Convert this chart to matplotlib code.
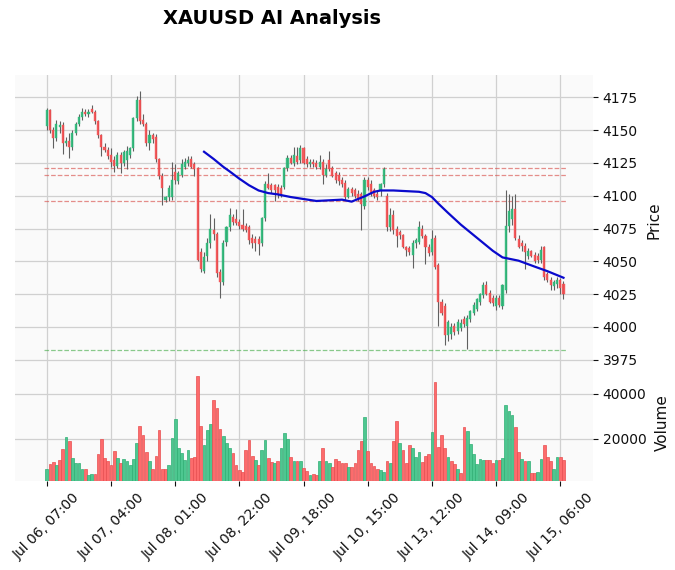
import numpy as np
import matplotlib
matplotlib.use("Agg")
import matplotlib.pyplot as plt

# hourly candles, index 0 = Jul 06 07:00
open_ = [4153, 4165, 4150, 4144, 4152, 4154, 4140, 4142, 4137, 4148,
         4155, 4160, 4164, 4162, 4166, 4164, 4157, 4146, 4137, 4135,
         4131, 4127, 4123, 4131, 4125, 4127, 4131, 4136, 4159, 4173,
         4158, 4155, 4140, 4146, 4145, 4128, 4115, 4097, 4099, 4099,
         4118, 4111, 4116, 4122, 4125, 4128, 4124, 4121, 4057, 4043,
         4054, 4064, 4074, 4071, 4042, 4034, 4065, 4076, 4084, 4082,
         4080, 4078, 4077, 4076, 4068, 4067, 4067, 4064, 4083, 4109,
         4108, 4108, 4107, 4106, 4107, 4121, 4129, 4125, 4130, 4127,
         4136, 4128, 4124, 4126, 4125, 4122, 4126, 4116, 4127, 4121,
         4117, 4116, 4112, 4110, 4099, 4105, 4104, 4101, 4101, 4092,
         4112, 4109, 4104, 4101, 4104, 4109, 4100, 4076, 4085, 4075,
         4072, 4070, 4061, 4060, 4055, 4064, 4065, 4075, 4069, 4061,
         4057, 4068, 4047, 4019, 4016, 3994, 3995, 4001, 3997, 3999,
         4006, 4001, 4006, 4011, 4014, 4019, 4024, 4032, 4026, 4022,
         4016, 4022, 4016, 4028, 4077, 4082, 4090, 4067, 4064, 4062,
         4054, 4058, 4055, 4054, 4051, 4061, 4040, 4036, 4031, 4033,
         4036, 4033]
high = [4167, 4166, 4152, 4158, 4157, 4156, 4145, 4148, 4150, 4156,
        4162, 4167, 4166, 4166, 4169, 4165, 4158, 4147, 4140, 4137,
        4136, 4130, 4133, 4133, 4135, 4138, 4137, 4160, 4176, 4180,
        4162, 4156, 4150, 4148, 4147, 4129, 4117, 4100, 4108, 4126,
        4124, 4119, 4128, 4129, 4130, 4130, 4126, 4122, 4060, 4057,
        4068, 4086, 4083, 4072, 4044, 4066, 4077, 4091, 4086, 4090,
        4082, 4090, 4079, 4078, 4071, 4069, 4069, 4084, 4111, 4117,
        4110, 4109, 4109, 4108, 4122, 4131, 4131, 4137, 4137, 4139,
        4137, 4130, 4128, 4128, 4127, 4131, 4128, 4124, 4134, 4123,
        4119, 4118, 4114, 4112, 4107, 4107, 4106, 4104, 4103, 4114,
        4114, 4112, 4106, 4104, 4110, 4122, 4102, 4091, 4089, 4077,
        4074, 4071, 4062, 4062, 4066, 4068, 4081, 4078, 4071, 4063,
        4074, 4070, 4049, 4021, 4018, 4005, 4003, 4003, 4006, 4006,
        4008, 4009, 4013, 4019, 4022, 4026, 4034, 4035, 4028, 4024,
        4024, 4024, 4033, 4104, 4101, 4100, 4101, 4070, 4066, 4064,
        4060, 4059, 4057, 4056, 4062, 4062, 4042, 4038, 4036, 4038,
        4037, 4035]
low = [4150, 4148, 4136, 4142, 4148, 4132, 4138, 4129, 4135, 4146,
       4153, 4158, 4161, 4160, 4163, 4155, 4144, 4130, 4133, 4128,
       4122, 4118, 4121, 4117, 4123, 4120, 4129, 4134, 4157, 4155,
       4153, 4138, 4135, 4140, 4126, 4113, 4093, 4095, 4096, 4097,
       4109, 4109, 4114, 4120, 4123, 4121, 4115, 4050, 4042, 4041,
       4050, 4060, 4066, 4038, 4022, 4032, 4062, 4073, 4078, 4078,
       4075, 4073, 4072, 4063, 4060, 4058, 4055, 4062, 4081, 4105,
       4102, 4096, 4098, 4099, 4105, 4119, 4124, 4123, 4124, 4125,
       4124, 4122, 4122, 4122, 4120, 4120, 4109, 4114, 4119, 4114,
       4110, 4108, 4107, 4097, 4098, 4100, 4098, 4096, 4074, 4090,
       4104, 4100, 4098, 4097, 4100, 4107, 4073, 4073, 4071, 4061,
       4067, 4060, 4054, 4055, 4045, 4060, 4063, 4068, 4048, 4054,
       4055, 4044, 4001, 4009, 3986, 3989, 3991, 3994, 3995, 3997,
       4000, 3983, 4004, 4009, 4012, 4017, 4022, 4024, 4018, 4016,
       4013, 4015, 4014, 4026, 4072, 4078, 4066, 4060, 4058, 4044,
       4052, 4053, 4049, 4049, 4049, 4036, 4034, 4028, 4028, 4030,
       4025, 4021]
close = [4165, 4150, 4144, 4155, 4154, 4140, 4142, 4137, 4148, 4155,
         4160, 4164, 4162, 4164, 4164, 4157, 4146, 4137, 4135, 4130,
         4126, 4123, 4131, 4125, 4133, 4134, 4136, 4159, 4173, 4157,
         4155, 4140, 4146, 4143, 4128, 4115, 4106, 4099, 4106, 4112,
         4112, 4117, 4124, 4126, 4127, 4122, 4120, 4051, 4044, 4053,
         4064, 4075, 4071, 4041, 4034, 4064, 4076, 4085, 4080, 4079,
         4077, 4075, 4074, 4066, 4064, 4064, 4063, 4083, 4109, 4106,
         4104, 4104, 4101, 4101, 4121, 4129, 4125, 4131, 4126, 4136,
         4125, 4124, 4126, 4124, 4122, 4126, 4116, 4120, 4120, 4115,
         4112, 4111, 4109, 4099, 4105, 4102, 4100, 4097, 4094, 4112,
         4107, 4102, 4100, 4099, 4109, 4120, 4076, 4085, 4074, 4069,
         4070, 4061, 4059, 4057, 4064, 4066, 4076, 4069, 4061, 4056,
         4067, 4046, 4019, 4011, 3994, 4004, 4000, 3996, 4004, 4003,
         4002, 4007, 4012, 4017, 4021, 4025, 4032, 4025, 4019, 4018,
         4022, 4017, 4032, 4077, 4088, 4090, 4068, 4061, 4062, 4057,
         4058, 4054, 4050, 4051, 4059, 4038, 4036, 4032, 4034, 4036,
         4030, 4025]
volume = [6500, 8750, 9750, 8300, 10400, 15400, 20700, 18700, 11400, 8900,
          8900, 6500, 6500, 3600, 4100, 4400, 12900, 19800, 11400, 10100,
          8300, 14500, 11400, 9200, 11000, 10100, 8400, 11100, 17800, 25800,
          21600, 14200, 9800, 6500, 12300, 23800, 6500, 6500, 8000, 20300,
          28700, 15800, 13400, 10400, 14900, 11400, 12000, 48000, 25800, 17000,
          23700, 26700, 37300, 33600, 24400, 21000, 18100, 15600, 13700, 8000,
          5900, 5300, 14900, 19300, 12300, 10400, 8000, 14900, 19300, 11300,
          9400, 9100, 9800, 16000, 22700, 19900, 12000, 9800, 9800, 9800,
          6800, 5500, 3900, 4400, 3900, 9800, 16000, 10200, 9300, 7100,
          11000, 10200, 9300, 9300, 7400, 7100, 9100, 14700, 19100, 29800,
          14500, 9300, 7800, 6400, 5800, 5300, 10100, 9100, 19100, 27800,
          18000, 14900, 9100, 17000, 15800, 12000, 13800, 9400, 12300, 13300,
          23000, 45000, 16400, 21400, 15800, 12000, 10100, 8600, 6500, 4600,
          25000, 23200, 17500, 13300, 8600, 11000, 10400, 10400, 10400, 9100,
          10400, 10400, 11300, 35000, 32500, 30500, 25300, 14200, 10800, 10200,
          9800, 4700, 4700, 5300, 11000, 17200, 12000, 9800, 6500, 12000,
          12000, 10400]

# moving average line (candle index, value)
ma_idx = [49, 52, 55, 57, 60, 63, 66, 69, 72, 76, 80, 84, 88, 92, 95, 99,
          102, 104, 108, 112, 116, 118, 120, 122, 125, 129, 133, 136, 139,
          142, 147, 152, 156, 161]
ma_val = [4133.5, 4128, 4122, 4118.5, 4113, 4108, 4104, 4102, 4101, 4099,
          4097.5, 4096, 4096.5, 4097, 4095.5, 4099.5, 4103, 4104, 4104,
          4103.5, 4103, 4102, 4099, 4094, 4087, 4078, 4070, 4064, 4058,
          4053, 4050.5, 4046, 4042.5, 4037.5]

resistance = [4121.2, 4116.1, 4096.3]
support = [3982.8]

tick_pos = [0, 20, 40, 60, 80, 100, 120, 140, 160]
tick_labels = ['Jul 06, 07:00', 'Jul 07, 04:00', 'Jul 08, 01:00',
               'Jul 08, 22:00', 'Jul 09, 18:00', 'Jul 10, 15:00',
               'Jul 13, 12:00', 'Jul 14, 09:00', 'Jul 15, 06:00']

UP, DOWN = '#2bb878', '#f44e50'
VUP, VDOWN = '#4dc790', '#fd6b6c'
FACE, GRID = '#fafafa', '#d0d0d0'

o = np.array(open_, float)
h = np.array(high, float)
l = np.array(low, float)
c = np.array(close, float)
v = np.array(volume, float)
x = np.arange(len(c))

fig = plt.figure(figsize=(6.75, 5.7), dpi=100)
W, H = 675, 570
ax1 = fig.add_axes([15 / W, (H - 365) / H, 578 / W, 290 / H])
ax2 = fig.add_axes([15 / W, (H - 481) / H, 578 / W, 116 / H], sharex=ax1)

for ax in (ax1, ax2):
    ax.set_facecolor(FACE)
    ax.grid(True, color=GRID, linewidth=0.9, zorder=0)
    ax.set_axisbelow(True)
    for s in ax.spines.values():
        s.set_visible(False)
    ax.yaxis.tick_right()
    ax.yaxis.set_label_position('right')
    ax.tick_params(axis='both', colors='#101010', labelsize=10, length=3.5)

# candles
up = c >= o
ax1.vlines(x, l, h, color='#606060', linewidth=0.8, zorder=2)
body = np.maximum(np.abs(c - o), 0.4)
ax1.bar(x, body, bottom=np.minimum(o, c), width=0.65,
        color=np.where(up, UP, DOWN), edgecolor=np.where(up, UP, DOWN),
        linewidth=0.3, alpha=0.9, zorder=3)

# moving average and levels
ax1.plot(ma_idx, ma_val, color='#0a0acd', linewidth=1.6, zorder=4)
for lv in resistance:
    ax1.plot([-1, len(c)], [lv, lv], color='#d9534f', alpha=0.65,
             linestyle='--', linewidth=0.9, zorder=1.5)
for lv in support:
    ax1.plot([-1, len(c)], [lv, lv], color='#4caf50', alpha=0.65,
             linestyle='--', linewidth=0.9, zorder=1.5)

ax1.set_ylim(3971, 4192)
ax1.set_yticks([3975, 4000, 4025, 4050, 4075, 4100, 4125, 4150, 4175])
ax1.set_ylabel('Price', fontsize=11, color='#101010', labelpad=6)
ax1.tick_params(axis='x', labelbottom=False, length=0)

# volume, colored by close-to-close change
vup = np.concatenate([[True], c[1:] >= c[:-1]])
ax2.bar(x, v, width=0.85, color=np.where(vup, VUP, VDOWN),
        edgecolor=np.where(vup, '#2fae74', '#e84e50'), linewidth=0.5, zorder=3)
ax2.set_ylim(0.3 * v.min(), 1.1 * v.max())
ax2.set_yticks([20000, 40000])
ax2.set_ylabel('Volume', fontsize=11, color='#101010', labelpad=6)

ax2.set_xlim(-9.9, 170.2)
ax2.set_xticks(tick_pos)
ax2.set_xticklabels(tick_labels, rotation=45, ha='center')

fig.text(272 / W, 1 - 18 / H, 'XAUUSD AI Analysis', ha='center', va='center',
         fontsize=14, fontweight='bold')

fig.savefig('out.png', dpi=100)
